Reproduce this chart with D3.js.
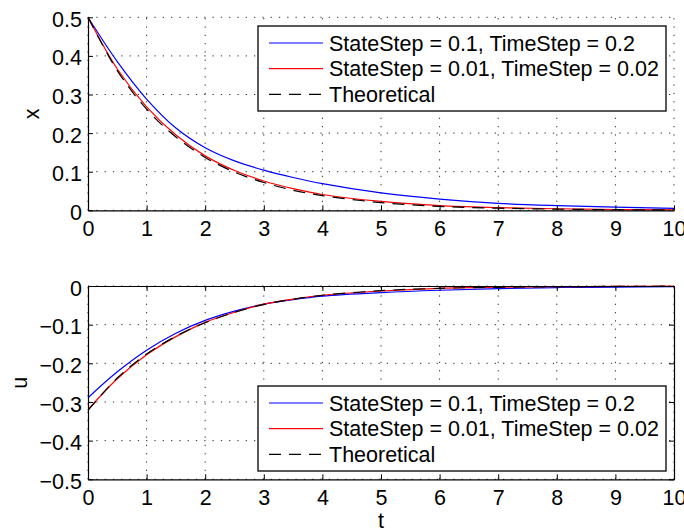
<!DOCTYPE html>
<html>
<head>
<meta charset="utf-8">
<script src="https://cdn.jsdelivr.net/npm/d3@7"></script>
<style>
  body { margin: 0; background: #fff; }
  svg { display: block; font-family: "Liberation Sans", Arial, Helvetica, sans-serif; }
</style>
</head>
<body>
<div class="container"></div>
<script>
// sample times
const tVals = [0, 0.5, 1, 1.5, 2, 2.5, 3, 3.5, 4, 5, 6, 7, 8, 9, 10];

// state x(t)
const xCoarse = [0.5, 0.385, 0.288, 0.213, 0.162, 0.128, 0.104, 0.085, 0.069, 0.045, 0.029, 0.018, 0.012, 0.008, 0.005];
const xFine = [0.5, 0.366, 0.268, 0.195, 0.141, 0.103, 0.076, 0.056, 0.041, 0.023, 0.012, 0.007, 0.004, 0.002, 0.001];
const xTheory = [0.5, 0.362, 0.262, 0.19, 0.137, 0.099, 0.072, 0.052, 0.038, 0.02, 0.01, 0.0055, 0.003, 0.0015, 0.0008];

// control u(t)
const uCoarse = [-0.289, -0.222, -0.166, -0.122, -0.089, -0.065, -0.047, -0.035, -0.026, -0.017, -0.011, -0.007, -0.004, -0.003, -0.002];
const uFine = [-0.32, -0.24, -0.178, -0.131, -0.094, -0.068, -0.047, -0.034, -0.024, -0.013, -0.006, -0.003, -0.002, -0.001, -0.0005];
const uTheory = [-0.322, -0.238, -0.176, -0.13, -0.095, -0.068, -0.048, -0.034, -0.024, -0.012, -0.006, -0.0033, -0.0018, -0.001, -0.0005];

const tTicks = [0, 1, 2, 3, 4, 5, 6, 7, 8, 9, 10];
const xTicks = [0, 0.1, 0.2, 0.3, 0.4, 0.5];
const uTicks = [-0.5, -0.4, -0.3, -0.2, -0.1, 0];

const legendLabels = ['StateStep = 0.1, TimeStep = 0.2', 'StateStep = 0.01, TimeStep = 0.02', 'Theoretical'];

const fmtY = d => (d === 0 ? '0' : (d < 0 ? '\u2212' : '') + Math.abs(d).toFixed(1));
const fmtT = d => String(d);

const width = 684;
const height = 531;
const left = 88;
const right = 674;
const fontSize = 21.5;

const svg = d3.select('.container').append('svg').attr('width', width).attr('height', height);

const xScale = d3.scaleLinear().domain([0, 10]).range([left, right]);

const styles = [
  { color: '#0000ff', dash: null },
  { color: '#ff0000', dash: null },
  { color: '#000000', dash: '12,8' }
];

const renderPanel = (opts) => {
  const { top, bottom, yDomain, yTicks, series, box, legendTop, ylabel, ylabelX } = opts;
  const yScale = d3.scaleLinear().domain(yDomain).range([bottom, top]);
  const g = svg.append('g');

  // dotted grid
  const grid = g.append('g').attr('class', 'grid').attr('stroke', '#333').attr('stroke-width', 1).attr('stroke-dasharray', '1.3,7');
  grid.selectAll('line.v').data(tTicks).enter().append('line')
    .attr('x1', d => xScale(d)).attr('x2', d => xScale(d))
    .attr('y1', bottom).attr('y2', top);
  grid.selectAll('line.h').data(yTicks).enter().append('line')
    .attr('x1', left).attr('x2', right)
    .attr('y1', d => yScale(d)).attr('y2', d => yScale(d));

  // curves
  const line = d3.line().x((d, i) => xScale(tVals[i])).y(d => yScale(d)).curve(d3.curveCatmullRom);
  series.forEach((s, i) => {
    g.append('path')
      .datum(s)
      .attr('fill', 'none')
      .attr('stroke', styles[i].color)
      .attr('stroke-width', 1.2)
      .attr('stroke-dasharray', styles[i].dash)
      .attr('d', line);
  });

  // axes with inward ticks
  const bottomAxis = d3.axisBottom(xScale).tickValues(tTicks).tickSizeInner(-5).tickSizeOuter(0).tickPadding(10).tickFormat(fmtT);
  const leftAxis = d3.axisLeft(yScale).tickValues(yTicks).tickSizeInner(-5).tickSizeOuter(0).tickPadding(6).tickFormat(fmtY);

  g.append('g').attr('transform', `translate(0,${bottom})`).call(bottomAxis);
  g.append('g').attr('class', 'yaxis').attr('transform', `translate(${left},0)`).call(leftAxis);

  if (box) {
    g.append('g').attr('transform', `translate(0,${top})`)
      .call(d3.axisTop(xScale).tickValues(tTicks).tickSizeInner(-5).tickSizeOuter(0).tickFormat(''));
    g.append('g').attr('transform', `translate(${right},0)`)
      .call(d3.axisRight(yScale).tickValues(yTicks).tickSizeInner(-5).tickSizeOuter(0).tickFormat(''));
  }

  g.selectAll('.domain').attr('stroke', '#000').attr('stroke-width', 1.2);
  g.selectAll('.tick line').attr('stroke', '#000');
  g.selectAll('.tick text').attr('font-size', fontSize).attr('fill', '#000').attr('font-family', null);
  g.selectAll('.yaxis .tick text').attr('dy', '0.42em');

  // y label
  svg.append('text')
    .attr('transform', `translate(${ylabelX},${(top + bottom) / 2}) rotate(-90)`)
    .attr('text-anchor', 'middle')
    .attr('font-size', fontSize)
    .text(ylabel);

  // legend
  const lg = svg.append('g').attr('transform', `translate(258,${legendTop})`);
  lg.append('rect').attr('width', 408).attr('height', 85)
    .attr('fill', '#fff').attr('stroke', '#000').attr('stroke-width', 1.3);
  legendLabels.forEach((label, i) => {
    const y = 17 + i * 25.7;
    lg.append('line')
      .attr('x1', 11).attr('x2', 65).attr('y1', y).attr('y2', y)
      .attr('stroke', styles[i].color).attr('stroke-width', 1.2)
      .attr('stroke-dasharray', styles[i].dash);
    lg.append('text').attr('x', 71).attr('y', y + 7.5)
      .attr('font-size', fontSize).text(label);
  });
};

renderPanel({
  top: 17.3, bottom: 210.3, yDomain: [0, 0.5], yTicks: xTicks,
  series: [xCoarse, xFine, xTheory], box: false, legendTop: 26,
  ylabel: 'x', ylabelX: 39
});

renderPanel({
  top: 286, bottom: 479.3, yDomain: [-0.5, 0], yTicks: uTicks,
  series: [uCoarse, uFine, uTheory], box: true, legendTop: 386,
  ylabel: 'u', ylabelX: 27
});

svg.append('text')
  .attr('x', xScale(5))
  .attr('y', 528)
  .attr('text-anchor', 'middle')
  .attr('font-size', fontSize)
  .text('t');
</script>
</body>
</html>
